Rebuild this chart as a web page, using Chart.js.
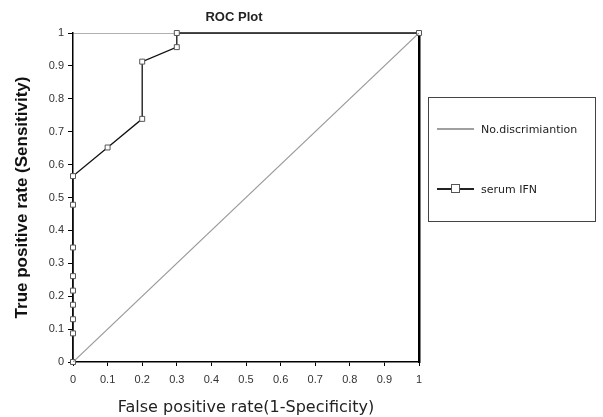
<!DOCTYPE html>
<html>
<head>
<meta charset="utf-8">
<script src="https://cdn.jsdelivr.net/npm/chart.js@4.4.1/dist/chart.umd.min.js"></script>
<style>
    html, body { margin: 0; padding: 0; background: #fff; }
    #wrap { position: relative; width: 603px; height: 417px; }
    #legend {
        position: absolute; left: 428px; top: 97px; width: 168px; height: 125px;
        border: 1px solid #444; box-sizing: border-box;
        font-family: "DejaVu Sans", sans-serif; font-size: 11px; color: #222;
    }
    .item { position: absolute; left: 8px; height: 12px; display: flex; align-items: center; }
    .swatch { position: relative; width: 37px; height: 12px; margin-right: 7px; }
    .swatch .ln { position: absolute; left: 0; right: 0; top: 5px; }
    .swatch .sq { position: absolute; left: 14px; top: 1px; width: 7px; height: 7px; border: 1px solid #555; background: #fff; }
</style>
</head>
<body>
<div id="wrap">
    <canvas id="roc" width="603" height="417"></canvas>
    <div id="legend">
        <div class="item" style="top:25px">
            <div class="swatch"><div class="ln" style="border-top:2px solid #a0a0a0"></div></div>
            <span>No.discrimiantion</span>
        </div>
        <div class="item" style="top:85px">
            <div class="swatch"><div class="ln" style="border-top:2px solid #222"></div><div class="sq"></div></div>
            <span>serum IFN</span>
        </div>
    </div>
</div>
<script>
// ROC data
const diagX = [0, 1];
const diagY = [0, 1];
const fpr = [0, 0, 0, 0, 0, 0, 0, 0, 0, 0.1, 0.2, 0.2, 0.3, 0.3, 1];
const tpr = [0, 0.087, 0.13, 0.174, 0.217, 0.261, 0.348, 0.478, 0.565, 0.652, 0.739, 0.913, 0.957, 1, 1];
const tickValues = [0, 0.1, 0.2, 0.3, 0.4, 0.5, 0.6, 0.7, 0.8, 0.9, 1];

const toPoints = (xs, ys) => xs.map((x, i) => ({ x: x, y: ys[i] }));

const tickFont = { family: '"Liberation Sans", Arial, sans-serif', size: 11 };

new Chart(document.getElementById('roc'), {
    type: 'scatter',
    data: {
        datasets: [
            {
                label: 'No.discrimiantion',
                data: toPoints(diagX, diagY),
                showLine: true,
                borderColor: '#9a9a9a',
                borderWidth: 1.2,
                pointRadius: 0
            },
            {
                label: 'serum IFN',
                data: toPoints(fpr, tpr),
                showLine: true,
                clip: false,
                borderColor: '#111',
                borderWidth: 1.3,
                pointStyle: 'rect',
                pointRadius: 3.5,
                pointBackgroundColor: '#fff',
                pointBorderColor: '#555',
                pointBorderWidth: 1
            }
        ]
    },
    options: {
        responsive: false,
        animation: false,
        layout: { padding: { left: 0, right: 135, top: 0, bottom: 0 } },
        plugins: {
            legend: { display: false },
            tooltip: { enabled: false },
            title: {
                display: true,
                text: 'ROC Plot',
                color: '#222',
                font: { family: '"Liberation Sans", Arial, sans-serif', size: 13, weight: 'bold' },
                padding: { top: 10, bottom: 0 }
            }
        },
        scales: {
            x: {
                type: 'linear', min: 0, max: 1,
                afterBuildTicks: (axis) => { axis.ticks = tickValues.map(v => ({ value: v })); },
                afterFit: (axis) => { axis.height = 55; },
                ticks: { color: '#333', font: tickFont, padding: 7, maxRotation: 0, callback: v => String(+v.toFixed(1)) },
                grid: { drawOnChartArea: false, drawTicks: true, tickLength: 4, color: '#000' },
                border: { color: '#000', width: 1.5 },
                title: {
                    display: true,
                    text: 'False positive rate(1-Specificity)',
                    color: '#222',
                    font: { family: '"DejaVu Sans", sans-serif', size: 16 },
                    padding: { top: 0, bottom: 0 }
                }
            },
            x2: {
                type: 'linear', position: 'top', min: 0, max: 1,
                afterFit: (axis) => { axis.height = 7.4; },
                ticks: { display: false },
                grid: { display: false },
                border: { color: '#b0b0b0', width: 1 }
            },
            y: {
                type: 'linear', min: 0, max: 1,
                afterBuildTicks: (axis) => { axis.ticks = tickValues.map(v => ({ value: v })); },
                afterFit: (axis) => { axis.width = 73; },
                ticks: { color: '#333', font: tickFont, padding: 4, callback: v => String(+v.toFixed(1)) },
                grid: { drawOnChartArea: false, drawTicks: true, tickLength: 5, color: '#000' },
                border: { color: '#000', width: 1.5 },
                title: {
                    display: true,
                    text: 'True positive rate (Sensitivity)',
                    color: '#111',
                    font: { family: '"Liberation Sans", Arial, sans-serif', size: 17, weight: 'bold' },
                    padding: { top: 12, bottom: 0 }
                }
            },
            y2: {
                type: 'linear', position: 'right', min: 0, max: 1,
                afterFit: (axis) => { axis.width = 49; },
                ticks: { display: false },
                grid: { display: false },
                border: { color: '#000', width: 2.5 }
            }
        }
    }
});
</script>
</body>
</html>
